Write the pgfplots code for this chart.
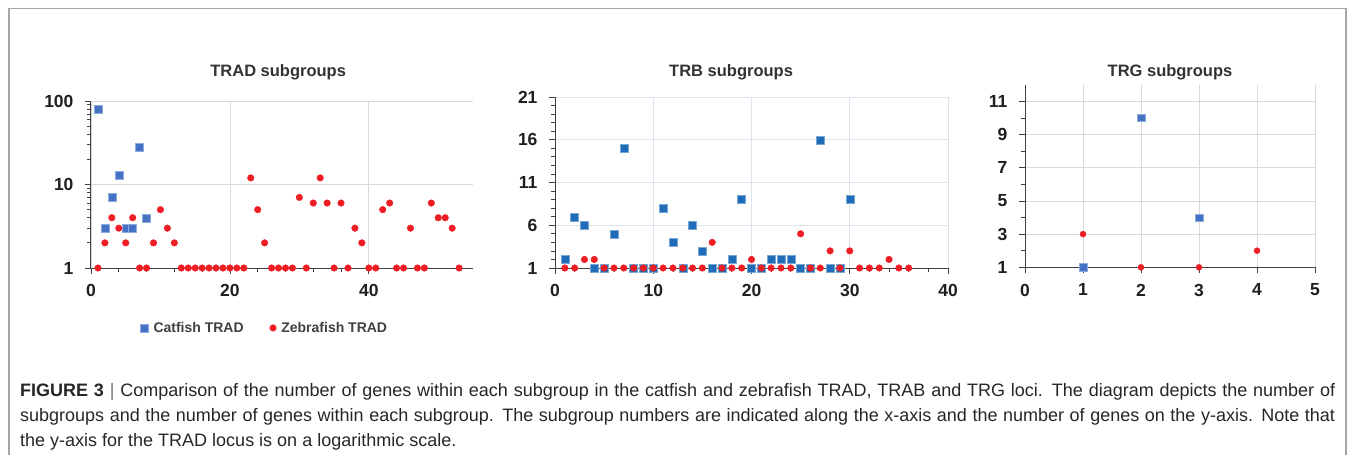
\documentclass[border=0pt]{standalone}
\usepackage{fontspec}
\setmainfont{Liberation Sans}
\setsansfont{Liberation Sans}
\usepackage{pgfplots}
\pgfplotsset{compat=1.18}
\definecolor{catblue}{HTML}{4472C4}
\definecolor{trbblue}{HTML}{1F6DB8}
\definecolor{zred}{HTML}{EE1D23}
\definecolor{gridgray}{HTML}{D9D9D9}
\definecolor{gridblue}{HTML}{DCE3ED}
\definecolor{axisdark}{HTML}{404040}
\definecolor{framegray}{HTML}{A6A6A6}

\pgfplotsset{
  panel/.style={
    scale only axis,
    axis x line=bottom, axis y line=left,
    axis line style={-, axisdark, line width=1pt},
    tick align=outside,
    major tick length=6pt, minor tick length=4pt,
    every tick/.style={axisdark, line width=0.8pt},
    grid=major,
    major grid style={gridgray, line width=0.8pt},
    enlargelimits=false,
    clip=false,
    ticklabel style={font=\fontsize{17.5}{18}\selectfont\bfseries, text=black!88},
    xticklabel style={yshift=-7pt},
    yticklabel style={xshift=-8pt},
    /pgf/number format/assume math mode=true,
    title style={font=\fontsize{16.5}{18}\selectfont\bfseries, text=black!80, anchor=center},
  },
  catmark/.style={only marks, mark=square*, mark size=4pt, mark options={fill=#1, draw=#1!60!white, line width=0.4pt}},
  zmark/.style={only marks, mark=*, mark size=3.3pt, mark options={fill=zred, draw=zred}},
}

\begin{document}
\begin{tikzpicture}
\useasboundingbox (0pt,0pt) rectangle (1355pt,-455pt);
\draw[framegray, line width=1.5pt] (9pt,-456pt) -- (9pt,-8.5pt) -- (1346pt,-8.5pt) -- (1346pt,-456pt);

% ---------------- TRAD ----------------
\begin{axis}[panel,
  at={(91pt,-268pt)}, anchor=south west,
  width=382pt, height=167pt,
  xmin=0, xmax=55, ymin=1, ymax=100,
  ymode=log, log ticks with fixed point,
  xtick={0,20,40}, minor x tick num=4,
  title={TRAD subgroups},
  title style={at={(0.49,1)}, yshift=23pt},
  legend style={at={(0.455,-0.359)}, anchor=center, draw=none, fill=none,
    font=\fontsize{14}{16}\selectfont\bfseries, text=black!75,
    legend columns=2,
    /tikz/every odd column/.append style={column sep=3pt},
    /tikz/every even column/.append style={column sep=24pt}},
]
\addplot[catmark=catblue] coordinates {
(1,80) (2,3) (3,7) (4,13) (5,3) (6,3) (7,28) (8,4)
};
\addlegendentry{Catfish TRAD}
\addplot[zmark] coordinates {
(1,1) (2,2) (3,4) (4,3) (5,2) (6,4) (7,1) (8,1) (9,2) (10,5)
(11,3) (12,2) (13,1) (14,1) (15,1) (16,1) (17,1) (18,1) (19,1) (20,1)
(21,1) (22,1) (23,12) (24,5) (25,2) (26,1) (27,1) (28,1) (29,1) (30,7)
(31,1) (32,6) (33,12) (34,6) (35,1) (36,6) (37,1) (38,3) (39,2) (40,1)
(41,1) (42,5) (43,6) (44,1) (45,1) (46,3) (47,1) (48,1) (49,6) (50,4)
(51,4) (52,3) (53,1)
};
\addlegendentry{Zebrafish TRAD}
\end{axis}

% ---------------- TRB ----------------
\begin{axis}[panel,
  at={(555pt,-268pt)}, anchor=south west,
  width=393pt, height=171pt,
  xmin=0, xmax=40, ymin=1, ymax=21,
  xtick={0,10,20,30,40}, minor x tick num=4,
  ytick={1,6,11,16,21}, minor y tick num=4,
  major grid style={gridblue, line width=0.8pt},
  title={TRB subgroups},
  title style={at={(0.448,1)}, yshift=19pt},
]
\addplot[catmark=trbblue] coordinates {
(1,2) (2,7) (3,6) (4,1) (5,1) (6,5) (7,15) (8,1) (9,1) (10,1)
(11,8) (12,4) (13,1) (14,6) (15,3) (16,1) (17,1) (18,2) (19,9) (20,1)
(21,1) (22,2) (23,2) (24,2) (25,1) (26,1) (27,16) (28,1) (29,1) (30,9)
};
\addplot[zmark] coordinates {
(1,1) (2,1) (3,2) (4,2) (5,1) (6,1) (7,1) (8,1) (9,1) (10,1)
(11,1) (12,1) (13,1) (14,1) (15,1) (16,4) (17,1) (18,1) (19,1) (20,2)
(21,1) (22,1) (23,1) (24,1) (25,5) (26,1) (27,1) (28,3) (29,1) (30,3)
(31,1) (32,1) (33,1) (34,2) (35,1) (36,1)
};
\end{axis}

% ---------------- TRG ----------------
\begin{axis}[panel,
  at={(1025pt,-267.3pt)}, anchor=south west,
  width=290pt, height=182.6pt,
  xmin=0, xmax=5, ymin=1, ymax=12,
  xtick={0,1,2,3,4,5},
  ytick={1,3,5,7,9,11}, minor y tick num=1,
  title={TRG subgroups},
  title style={at={(0.5,1)}, yshift=6pt},
]
\addplot[catmark=catblue, mark size=3.7pt] coordinates {
(1,1) (2,10) (3,4)
};
\addplot[zmark, mark size=3pt] coordinates {
(1,3) (2,1) (3,1) (4,2)
};
\end{axis}

% ---------------- caption ----------------
\node[anchor=base west, inner sep=0pt, font=\fontsize{18}{22}\selectfont, text=black!85] at (20pt,-396pt)
  {\makebox[1315pt][s]{\textbf{FIGURE 3} {\color{black!55}|} Comparison of the number of genes within each subgroup in the catfish and zebrafish TRAD, TRAB and TRG loci. The diagram depicts the number of}};
\node[anchor=base west, inner sep=0pt, font=\fontsize{18}{22}\selectfont, text=black!85] at (20pt,-421pt)
  {\makebox[1315pt][s]{subgroups and the number of genes within each subgroup. The subgroup numbers are indicated along the x-axis and the number of genes on the y-axis. Note that}};
\node[anchor=base west, inner sep=0pt, font=\fontsize{18}{22}\selectfont, text=black!85] at (20pt,-446pt)
  {the y-axis for the TRAD locus is on a logarithmic scale.};
\end{tikzpicture}
\end{document}
